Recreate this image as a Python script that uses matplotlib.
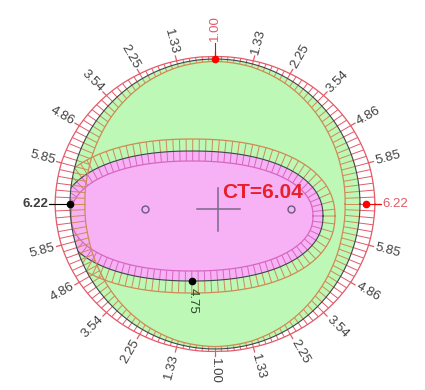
import numpy as np
import matplotlib
matplotlib.use("Agg")
import matplotlib.pyplot as plt
from matplotlib.collections import LineCollection
from matplotlib.patches import Circle, Polygon

# tick positions around the ring (degrees, 0 = right, counter-clockwise) and their values
tick_angles = list(range(0, 360, 15))
tick_values = [6.22, 5.85, 4.86, 3.54, 2.25, 1.33, 1.00, 1.33, 2.25, 3.54, 4.86, 5.85,
               6.22, 5.85, 4.86, 3.54, 2.25, 1.33, 1.00, 1.33, 2.25, 3.54, 4.86, 5.85]
tick_labels = ["%.2f" % v for v in tick_values]
red_ticks = [0, 90]          # labels drawn in red
ct_value = 6.04
low_value = 4.75             # marked point at the bottom of the inner zone

plt.rcParams['font.family'] = ['Liberation Sans', 'DejaVu Sans']

# geometry (pixel units, y down)
cx, cy, r0 = 215, 204, 145
k = 2.4                      # band width per unit
bx, by, ba, bb, bn = 192, 216, 131, 65, 2.2   # inner zone (superellipse)

GREEN = '#bdf8b6'
PINK = '#f6b2f4'
ORANGE = '#cf8a55'
MAGENTA = '#d866c0'
RED = '#e25a68'
DARK = '#3a4848'


def width(phi_deg):
    a = np.append(tick_angles, 360)
    v = np.append(tick_values, tick_values[0])
    return k * np.interp(np.mod(phi_deg, 360), a, v)


def pt(r, phi_deg):
    p = np.radians(phi_deg)
    return cx + r * np.cos(p), cy - r * np.sin(p)


fig = plt.figure(figsize=(4.25, 3.9), dpi=100)
ax = fig.add_axes([0, 0, 1, 1])
ax.set_xlim(0, 425)
ax.set_ylim(390, 0)
ax.axis('off')

# outer disc
ax.add_patch(Circle((cx, cy), r0, facecolor=GREEN, edgecolor='none', zorder=1))
clip = Circle((cx, cy), r0, transform=ax.transData)

# inner zone curve, resampled evenly along its length
t = np.linspace(0, 2 * np.pi, 4000)
ex = bx + ba * np.sign(np.cos(t)) * np.abs(np.cos(t)) ** (2 / bn)
ey = by + bb * np.sign(np.sin(t)) * np.abs(np.sin(t)) ** (2 / bn)
s = np.concatenate([[0], np.cumsum(np.hypot(np.diff(ex), np.diff(ey)))])
su = np.linspace(0, s[-1], 700)
ex, ey = np.interp(su, s, ex), np.interp(su, s, ey)
tx, ty = np.gradient(ex), np.gradient(ey)
nl = np.hypot(tx, ty)
nx, ny = ty / nl, -tx / nl
if np.mean((ex - bx) * nx + (ey - by) * ny) < 0:
    nx, ny = -nx, -ny
w_in, w_out = 10, 12
ix, iy = ex - w_in * nx, ey - w_in * ny
ox, oy = ex + w_out * nx, ey + w_out * ny

pink = Polygon(np.column_stack([ex, ey]), closed=True, facecolor=PINK,
               edgecolor='none', zorder=2)
ax.add_patch(pink)
pink.set_clip_path(clip)

idx = np.arange(0, len(ex), 7)
seg_in = [[(ix[i], iy[i]), (ex[i], ey[i])] for i in idx]
seg_out = [[(ex[i], ey[i]), (ox[i], oy[i])] for i in idx]
for segs, col in [(seg_in, MAGENTA), (seg_out, ORANGE)]:
    lc = LineCollection(segs, colors=col, linewidths=0.7, zorder=3)
    ax.add_collection(lc)
    lc.set_clip_path(clip)
for xs, ys, col, lw in [(ix, iy, MAGENTA, 0.9), (ox, oy, ORANGE, 0.9), (ex, ey, DARK, 0.8)]:
    ln, = ax.plot(xs, ys, color=col, lw=lw, zorder=4)
    ln.set_clip_path(clip)

# ring bands
phi = np.linspace(0, 360, 721)
w = width(phi)
xo, yo = pt(r0 + w, phi)
xi, yi = pt(r0 - w, phi)
xd, yd = pt(r0, phi)
ring = Polygon(np.column_stack([np.r_[xo, xd[::-1]], np.r_[yo, yd[::-1]]]),
               closed=True, facecolor='white', edgecolor='none', zorder=2)
ax.add_patch(ring)
hphi = np.arange(0, 360, 2.5)
hw = width(hphi)
segs_o = [[pt(r0, p), pt(r0 + q, p)] for p, q in zip(hphi, hw)]
segs_i = [[pt(r0 - q, p), pt(r0, p)] for p, q in zip(hphi, hw)]
ax.add_collection(LineCollection(segs_o, colors=RED, linewidths=0.7, zorder=5))
ax.add_collection(LineCollection(segs_i, colors=ORANGE, linewidths=0.7, zorder=5))
ax.plot(xo, yo, color=RED, lw=0.9, zorder=6)
ax.plot(xi, yi, color=ORANGE, lw=0.9, zorder=6)
ax.plot(xd, yd, color=DARK, lw=0.8, zorder=6)

# ticks and labels
for a, lab in zip(tick_angles, tick_labels):
    ro = r0 + width(a)
    col = RED if a in red_ticks else '#404040'
    (x1, y1), (x2, y2) = pt(ro, a), pt(ro + 5, a)
    ax.plot([x1, x2], [y1, y2], color=RED, lw=0.9, zorder=6)
    lx, ly = pt(ro + (16 if a == 90 else 7), a)
    if a <= 90 or a >= 270:
        rot, ha = (a if a <= 90 else a - 360), 'left'
    else:
        rot, ha = a - 180, 'right'
    bold = 'bold' if a == 180 else 'normal'
    ax.text(lx, ly, lab, rotation=rot, rotation_mode='anchor', ha=ha, va='center',
            fontsize=9.5, color=col, fontweight=bold, zorder=7)

# marked points
for a, col in [(90, 'red'), (0, 'red'), (180, 'black')]:
    px, py = pt(r0 + (0.4 * width(a) if a == 0 else 0), a)
    qx, qy = pt(r0 + width(a) + (14 if a == 90 else 6), a)
    ax.plot([px, qx], [py, qy], color=col, lw=0.8, zorder=7)
    ax.plot(px, py, 'o', color=col, ms=4.5, zorder=8)

# lowest point of the inner zone
j = np.argmax(ey)
ax.plot(ex[j], ey[j], 'o', color='black', ms=4.5, zorder=8)
ax.text(ex[j] + 1, ey[j] + 7, "%.2f" % low_value, rotation=-90, rotation_mode='anchor',
        ha='left', va='center', fontsize=9.5, color='#2a4a2a', zorder=8)

# centre cross, markers and CT label
ax.plot([197, 240], [209, 209], color='#7a6a88', lw=1.1, zorder=8)
ax.plot([218, 218], [188, 231], color='#7a6a88', lw=1.1, zorder=8)
ax.plot([145, 291], [209, 209], 'o', mfc='none', mec='#6a5a80', ms=5, mew=1.0,
        ls='none', zorder=8)
ax.text(222, 193, "CT=%.2f" % ct_value, color='#e8202c', fontsize=15,
        fontweight='bold', ha='left', va='center', zorder=9)

fig.savefig('out.png', dpi=100)
